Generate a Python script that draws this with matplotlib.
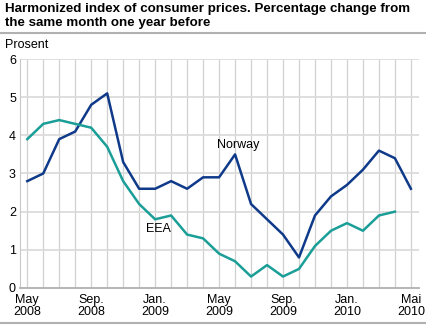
"""Harmonized index of consumer prices, Norway vs EEA."""

import matplotlib
matplotlib.use("Agg")
import matplotlib.pyplot as plt
from matplotlib.lines import Line2D

plt.rcParams["font.family"] = ["Liberation Sans", "DejaVu Sans"]

# Monthly, May 2008 .. May 2010
MONTHS = list(range(25))
NORWAY = [2.8, 3.0, 3.9, 4.1, 4.8, 5.1, 3.3, 2.6, 2.6, 2.8, 2.6, 2.9, 2.9,
          3.5, 2.2, 1.8, 1.4, 0.8, 1.9, 2.4, 2.7, 3.1, 3.6, 3.4, 2.6]
EEA = [3.9, 4.3, 4.4, 4.3, 4.2, 3.7, 2.8, 2.2, 1.8, 1.9, 1.4, 1.3, 0.9,
       0.7, 0.3, 0.6, 0.3, 0.5, 1.1, 1.5, 1.7, 1.5, 1.9, 2.0]
TICK_POS = [0, 4, 8, 12, 16, 20, 24]
TICK_LABELS = ["May\n2008", "Sep.\n2008", "Jan.\n2009", "May\n2009",
               "Sep.\n2009", "Jan.\n2010", "Mai\n2010"]
Y_TICKS = [0, 1, 2, 3, 4, 5, 6]

TITLE = ("Harmonized index of consumer prices. Percentage change from\n"
         "the same month one year before")
NORWAY_COLOR = "#0f3a8a"
EEA_COLOR = "#1a9e97"


def _main() -> None:
    fig = plt.figure(figsize=(4.27, 3.26), dpi=100)
    ax = fig.add_axes([0.047, 0.1166, 0.934, 0.7024])

    # grid: vertical line every month, horizontal every unit
    for m in MONTHS:
        ax.axvline(m, color="#d0d0d0", lw=0.9, zorder=0)
    for y in Y_TICKS[1:]:
        ax.axhline(y, color="#dcdcdc", lw=1.3, zorder=0)

    ax.plot(MONTHS, NORWAY, color=NORWAY_COLOR, lw=1.8, zorder=3)
    ax.plot(MONTHS[:len(EEA)], EEA, color=EEA_COLOR, lw=1.8, zorder=3)

    ax.text(13.2, 3.6, "Norway", fontsize=9, ha="center", va="bottom")
    ax.text(8.2, 1.55, "EEA", fontsize=9, ha="center", va="center")

    ax.set_xlim(-0.45, 24.5)
    ax.set_ylim(0, 6)
    ax.set_xticks(TICK_POS)
    ax.set_xticklabels(TICK_LABELS, fontsize=9, linespacing=1.0)
    ax.set_yticks(Y_TICKS)
    ax.set_yticklabels([str(v) for v in Y_TICKS], fontsize=9)
    ax.tick_params(length=0, pad=3)
    ax.tick_params(axis="x", pad=4)

    for side in ("top", "right"):
        ax.spines[side].set_visible(False)
    ax.spines["left"].set_color("#c8c8c8")
    ax.spines["bottom"].set_color("#b0b0b0")
    ax.spines["bottom"].set_linewidth(1.3)

    fig.text(0.012, 0.99, TITLE, fontsize=9.6, fontweight="bold",
             va="top", ha="left", linespacing=1.15)
    fig.text(0.012, 0.845, "Prosent", fontsize=9, va="bottom", ha="left")

    # horizontal rules under the title and at the bottom
    fig.add_artist(Line2D([0, 1], [0.899, 0.899], color="#b0b0b0", lw=1.5,
                          transform=fig.transFigure))
    fig.add_artist(Line2D([0, 1], [0.008, 0.008], color="#b0b0b0", lw=1.5,
                          transform=fig.transFigure))

    fig.savefig("out.png", dpi=100)


if __name__ == "__main__":
    _main()
